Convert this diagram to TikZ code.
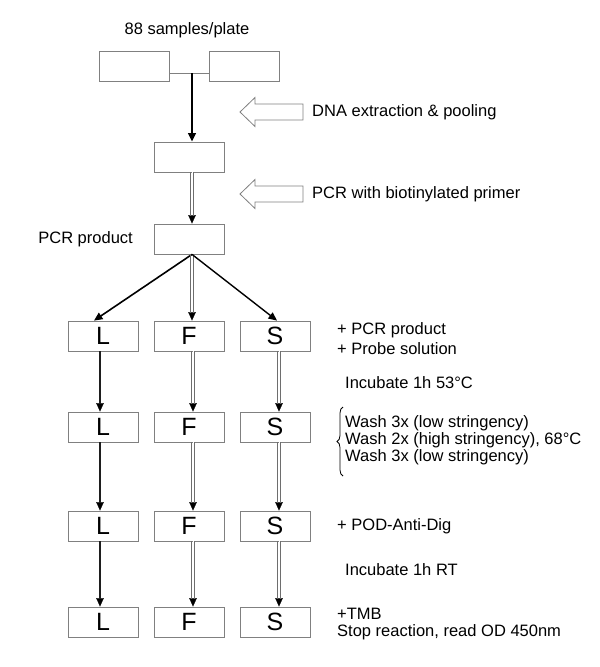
\documentclass[tikz,border=0pt]{standalone}
\usepackage{fontspec}
\setmainfont{Liberation Sans}
\usetikzlibrary{arrows.meta,decorations.pathreplacing}
\definecolor{boxgray}{RGB}{128,128,128}
\definecolor{linegray}{RGB}{110,110,110}
\definecolor{darkline}{RGB}{30,30,30}
\tikzset{
  box/.style={draw=boxgray, line width=0.8pt, minimum width=70pt, minimum height=30pt, inner sep=0pt, font=\fontsize{25}{27}\selectfont},
  lbl/.style={font=\fontsize{16.5}{19}\selectfont, inner sep=0pt, anchor=west, align=left},
  tipw/.style={-{Triangle[length=8.5pt,width=7.5pt,black]}, line width=0.3pt, draw=white},
  rail/.style={line width=0.9pt, shorten >=7.5pt},
  solidblack/.style={-{Triangle[length=8.5pt,width=7.5pt]}, line width=1.6pt, draw=black},
  hollow/.style={draw=boxgray, line width=0.8pt, fill=white, line join=miter},
}
% #1 colour, #2 half gap, #3 start, #4 end  (vertical connector drawn as two rails)
\newcommand{\pconn}[4]{%
  \draw[tipw] #3 -- #4;
  \draw[rail, draw=#1, transform canvas={xshift=-#2}] #3 -- #4;
  \draw[rail, draw=#1, transform canvas={xshift=#2}] #3 -- #4;
}
\begin{document}
\begin{tikzpicture}[x=1pt, y=-1pt]
\useasboundingbox (0,0) rectangle (600,667);
% top
\node[lbl, anchor=center] (title) at (187,30) {88 samples/plate};
\node[box] (t1) at (134,66) {};
\node[box] (t2) at (244,66) {};
\draw[boxgray, line width=0.8pt] ([yshift=-7pt]t1.east) -- ([yshift=-7pt]t2.west);
\coordinate (j) at (192,73);
\node[box] (b2) at (189,157) {};
\node[box] (b3) at (189,239) {};
\draw[solidblack, line width=2.6pt] (j) -- (j |- b2.north);
\pconn{linegray}{1.1pt}{([xshift=3pt]b2.south)}{([xshift=3pt]b3.north)}
\node[lbl, anchor=east] (pcrp) at (133,239) {PCR product};
% hollow arrows
\draw[hollow] (240,112) -- (255,97.5) -- (255,104) -- (303,104) -- (303,120) -- (255,120) -- (255,126.5) -- cycle;
\node[lbl] (dna) at (312,112) {DNA extraction \& pooling};
\draw[hollow] (240,194) -- (255,179.5) -- (255,186) -- (303,186) -- (303,202) -- (255,202) -- (255,208.5) -- cycle;
\node[lbl] (pcr) at (312,194) {PCR with biotinylated primer};
% rows
\foreach \r/\y in {1/336,2/427,3/526,4/622}{
  \node[box] (L\r) at (103,\y) {L};
  \node[box] (F\r) at (189,\y) {F};
  \node[box] (S\r) at (275,\y) {S};
}
\draw[solidblack] ([xshift=3pt]b3.south) -- ([xshift=-9pt]L1.north);
\pconn{linegray}{1.1pt}{([xshift=3pt]b3.south)}{([xshift=3pt]F1.north)}
\draw[solidblack, line width=1.4pt] ([xshift=3pt]b3.south) -- ([xshift=2pt]S1.north);
\foreach \a/\b in {1/2,2/3,3/4}{
  \pconn{darkline}{0.8pt}{([xshift=-3pt]L\a.south)}{([xshift=-3pt]L\b.north)}
  \pconn{linegray}{1.1pt}{([xshift=4pt]F\a.south)}{([xshift=4pt]F\b.north)}
  \pconn{linegray}{1.1pt}{([xshift=4pt]S\a.south)}{([xshift=4pt]S\b.north)}
}
% right-hand texts
\node[lbl] (add1) at (337,330) {+ PCR product};
\node[lbl] (add2) at (337,349) {+ Probe solution};
\node[lbl] (inc1) at (345,383) {Incubate 1h 53°C};
\node[lbl] (w1) at (345,423) {Wash 3x (low stringency)};
\node[lbl] (w2) at (345,440) {Wash 2x (high stringency), 68°C};
\node[lbl] (w3) at (345,457) {Wash 3x (low stringency)};
\draw[decorate, decoration={brace, amplitude=6pt}, line width=0.8pt] (343,476) -- (343,407);
\node[lbl] (pod) at (337,526) {+ POD-Anti-Dig};
\node[lbl] (inc2) at (345,570) {Incubate 1h RT};
\node[lbl] (tmb) at (337,614) {+TMB};
\node[lbl] (stop) at (337,632) {Stop reaction, read OD 450nm};
\end{tikzpicture}
\end{document}
